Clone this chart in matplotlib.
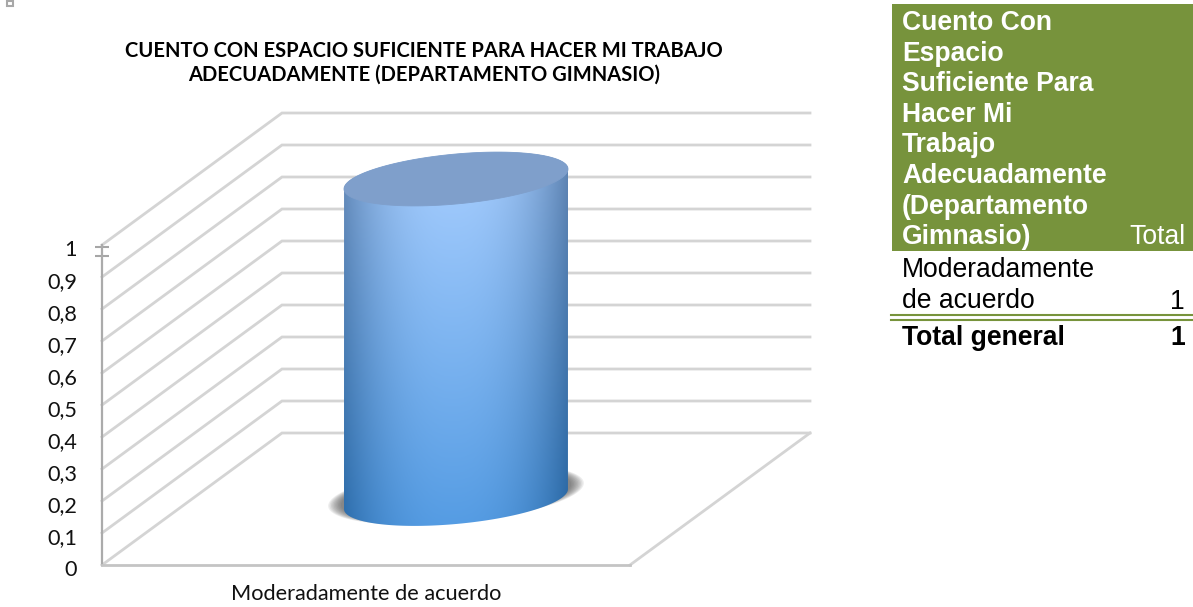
import numpy as np
import matplotlib
matplotlib.use('Agg')
import matplotlib.pyplot as plt
from matplotlib.patches import Rectangle, Polygon
from matplotlib.lines import Line2D
from matplotlib.transforms import ScaledTranslation

categories = ['Moderadamente de acuerdo']
values = [1]
y_ticks = [0, 0.1, 0.2, 0.3, 0.4, 0.5, 0.6, 0.7, 0.8, 0.9, 1]
y_labels = ['0', '0,1', '0,2', '0,3', '0,4', '0,5', '0,6', '0,7', '0,8', '0,9', '1']
title = 'CUENTO CON ESPACIO SUFICIENTE PARA HACER MI TRABAJO\nADECUADAMENTE (DEPARTAMENTO GIMNASIO)'

table_header = ['Cuento Con', 'Espacio', 'Suficiente Para', 'Hacer Mi', 'Trabajo',
                'Adecuadamente', '(Departamento', 'Gimnasio)']
table_total_head = 'Total'
table_row = ['Moderadamente', 'de acuerdo']
table_row_value = '1'
table_foot = 'Total general'
table_foot_value = '1'

W, H = 1193, 607
GRAY = '#D4D4D4'
GREEN = '#77933C'

# front plane of the 3d box, in pixels
PX_L, PX_R, PX_B, PX_T = 102, 630, 565, 245
PER_X = PX_R - PX_L
PER_Y = PX_B - PX_T
DEPTH_X = 180 / PER_X
DEPTH_Y = 132 / PER_Y

fig = plt.figure(figsize=(W / 100, H / 100), dpi=100)
ax = fig.add_axes([PX_L / W, 1 - PX_B / H, PER_X / W, PER_Y / H])
ax.set_xlim(-0.5, 0.5)
ax.set_ylim(0, 1)
ax.patch.set_visible(False)


def fx(px):
    return px / W


def fy(px):
    return 1 - px / H


# walls and gridlines
for v in y_ticks:
    ax.plot([-0.5, -0.5 + DEPTH_X, 0.5 + DEPTH_X], [v, v + DEPTH_Y, v + DEPTH_Y],
            color=GRAY, lw=2, clip_on=False, zorder=1, solid_joinstyle='miter')
ax.plot([0.5, 0.5 + DEPTH_X], [0, DEPTH_Y], color=GRAY, lw=2, clip_on=False, zorder=1)

# cylinder
half_w = 112 / PER_X
tilt = 0.089
b = 25 / PER_Y
t = np.linspace(0, 2 * np.pi, 200, endpoint=False)
for i, cat in enumerate(categories):
    cx = i + DEPTH_X / 2
    cy0 = DEPTH_Y / 2
    cy1 = values[i] + DEPTH_Y / 2

    def ellipse(yc, grow=0.0):
        ex = (half_w + grow) * np.cos(t)
        ey = tilt * ex * PER_X / PER_Y + (b + grow * 0.3) * np.sin(t)
        return cx + ex, yc + ey

    # soft shadow on the floor
    for grow in np.linspace(0.03, 0.006, 10):
        sx, sy = ellipse(cy0 + 0.014, grow)
        ax.add_patch(Polygon(np.c_[sx, sy], closed=True, fc='#404040', ec='none',
                             alpha=0.09, clip_on=False, zorder=2))

    # body
    up = t <= np.pi
    tx, ty = ellipse(cy1)
    bx, by = ellipse(cy0)
    outline = np.r_[np.c_[tx[up], ty[up]], np.c_[bx[~up], by[~up]], [[tx[0], ty[0]]]]
    body = Polygon(outline, closed=True, transform=ax.transData, fc='none', ec='none')
    ax.add_patch(body)

    rows, cols = 300, 300
    u = np.linspace(-1, 1, cols)
    shade = np.clip(1 - np.abs((u + 0.03) / 1.03) ** 2.4, 0, 1)[None, :, None]
    vert = np.linspace(0, 1, rows)[:, None, None]
    centre_top = np.array([0.66, 0.81, 1.0])
    centre_bot = np.array([0.33, 0.61, 0.89])
    edge_top = np.array([0.38, 0.52, 0.70])
    edge_bot = np.array([0.15, 0.40, 0.64])
    centre = centre_top * (1 - vert) + centre_bot * vert
    edge = edge_top * (1 - vert) + edge_bot * vert
    img = edge * (1 - shade) + centre * shade
    im = ax.imshow(img, extent=(cx - half_w, cx + half_w, cy0 - b * 1.2, cy1 + b * 1.2),
                   origin='upper', aspect='auto', zorder=3)
    im.set_clip_box(fig.bbox)
    im.set_clip_path(body)

    # top cap
    ax.add_patch(Polygon(np.c_[tx, ty], closed=True, fc='#7F9FCB', ec='#7F9FCB', lw=0.6,
                         clip_on=False, zorder=4))

ax.set_xlim(-0.5, 0.5)
ax.set_ylim(0, 1)

for s in ['top', 'right']:
    ax.spines[s].set_visible(False)
ax.spines['left'].set_color('#ABABAB')
ax.spines['left'].set_linewidth(1.6)
ax.spines['bottom'].set_color('#C4C4C4')
ax.spines['bottom'].set_linewidth(2)

ax.set_xticks(range(len(categories)))
ax.set_xticklabels(categories, family='Lato', fontsize=15.7, color='#111111')
ax.tick_params(axis='x', length=0, pad=14)
ax.set_yticks(y_ticks)
ax.set_yticklabels(y_labels, family='Lato', fontsize=15.6, color='#111111')
ax.tick_params(axis='y', length=0, pad=18)
ax.set_yticks([0.965, 0.995], minor=True)
ax.tick_params(axis='y', which='minor', length=10, width=1.5, color='#A6A6A6', direction='inout', left=True)
ax.yaxis.set_tick_params(which='minor', labelleft=False)
shift = ScaledTranslation(0, -3 / 100, fig.dpi_scale_trans)
for lab in ax.get_yticklabels():
    lab.set_transform(lab.get_transform() + shift)

fig.text(fx(424), fy(63), title, ha='center', va='center', family='Lato', weight='bold',
         fontsize=14.5, color='black', linespacing=1.25)

# small handle in the corner
fig.add_artist(Rectangle((fx(7), fy(6)), 6 / W, 5 / H, transform=fig.transFigure,
                         fc='white', ec='#A8A8A8', lw=1.5))

# pivot table
fig.add_artist(Rectangle((fx(892), fy(251)), 301 / W, 247 / H, transform=fig.transFigure,
                         fc=GREEN, ec='none'))
for k, line in enumerate(table_header):
    fig.text(fx(902), fy(23 + k * 30.6), line, ha='left', va='center', family='Liberation Sans',
             weight='bold', fontsize=19.1, color='white')
fig.text(fx(1185), fy(237), table_total_head, ha='right', va='center', family='Liberation Sans',
         fontsize=19.1, color='white')
for k, line in enumerate(table_row):
    fig.text(fx(902), fy(270 + k * 31), line, ha='left', va='center', family='Liberation Sans',
             fontsize=19.1, color='black')
fig.text(fx(1185), fy(302), table_row_value, ha='right', va='center', family='Liberation Sans',
         fontsize=19.1, color='black')
for yy in [315, 319.5]:
    fig.add_artist(Line2D([fx(891), fx(1193)], [fy(yy), fy(yy)], color=GREEN, lw=1.5))
fig.text(fx(902), fy(338), table_foot, ha='left', va='center', family='Liberation Sans',
         weight='bold', fontsize=19.1, color='black')
fig.text(fx(1185), fy(338), table_foot_value, ha='right', va='center', family='Liberation Sans',
         weight='bold', fontsize=19.1, color='black')

fig.savefig('out.png', dpi=100)
